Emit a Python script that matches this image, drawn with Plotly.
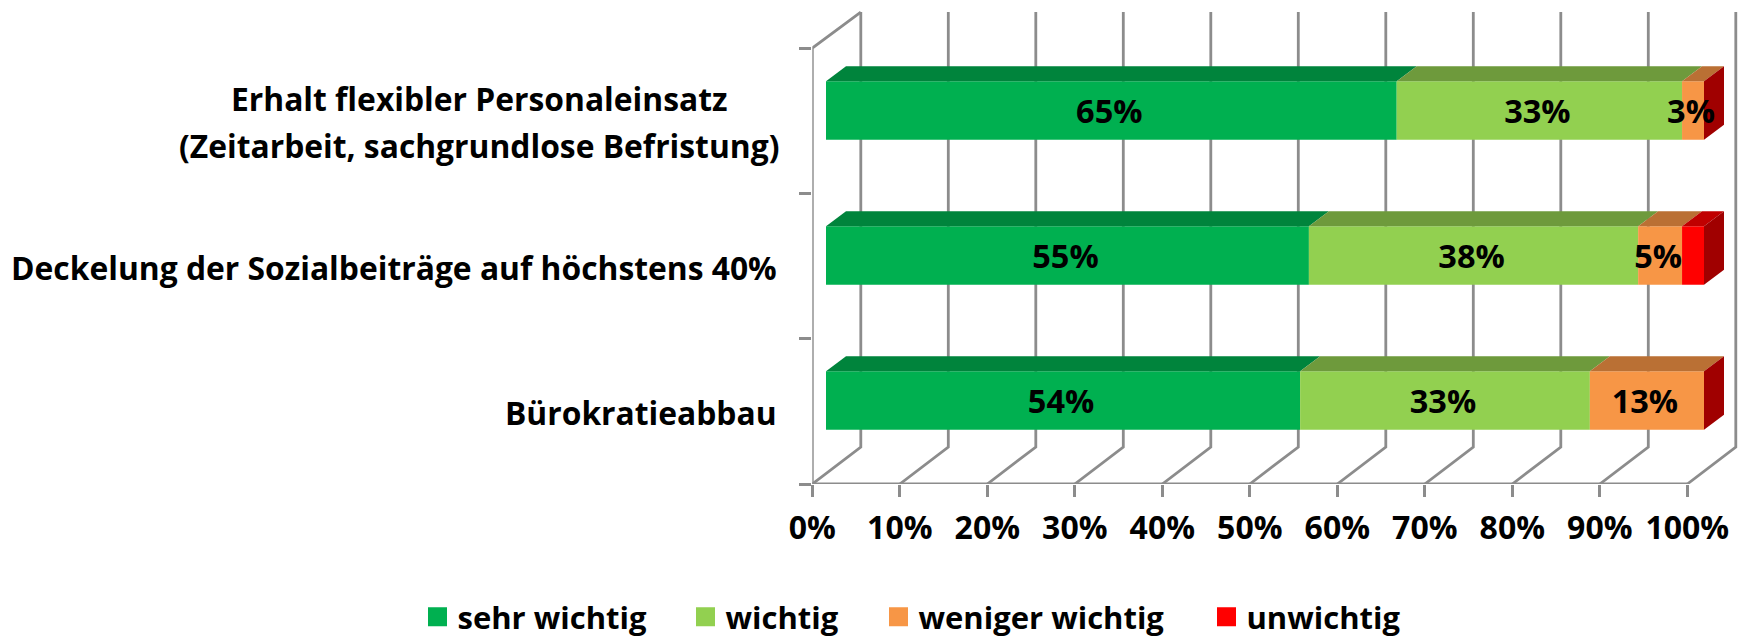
import plotly.graph_objects as go

W, H = 1744, 637

# ---- data (bottom category first) ----
categories = [
    "Bürokratieabbau",
    "Deckelung der Sozialbeiträge auf höchstens 40%",
    "Erhalt flexibler Personaleinsatz\n(Zeitarbeit, sachgrundlose Befristung)",
]
series_names = ["sehr wichtig", "wichtig", "weniger wichtig", "unwichtig"]
sehr_wichtig = [54, 55, 65]
wichtig = [33, 37.5, 32.5]
weniger_wichtig = [13, 5, 2.5]
unwichtig = [0, 2.5, 0]
sehr_wichtig_labels = ["54%", "55%", "65%"]
wichtig_labels = ["33%", "38%", "33%"]
weniger_wichtig_labels = ["13%", "5%", "3%"]
unwichtig_labels = ["", "", ""]
x_tick_values = [0, 10, 20, 30, 40, 50, 60, 70, 80, 90, 100]
x_tick_labels = ["0%", "10%", "20%", "30%", "40%", "50%", "60%", "70%", "80%", "90%", "100%"]

# ---- style ----
front_colors = ["#00B050", "#92D050", "#F79646", "#FF0000"]
top_colors = ["#00843C", "#6E9A3C", "#BA7034", "#C00000"]
side_color = "#A00000"
grid_color = "#8C8C8C"
font_family = "Open Sans"
category_font_size = 31.8
value_font_size = 32.5
tick_font_size = 32
legend_font_size = 31
legend_left_px = [428, 696, 889, 1217]
legend_pad_px = 10.5
legend_center_px = 617

# pixel geometry of the fake 3D box
wall_left, wall_right, wall_bottom = 812.3, 1687.3, 484
cat_px = 145.33
px_per_unit = (wall_right - wall_left) / 100
wall_dx = 48.5 / px_per_unit
wall_dy = 37 / cat_px
wall_rise = 36 / cat_px

bar_left, bar_right = 826, 1704
bar_bottom_px, bar_top_px = 473, 38
bar_px_per_unit = (bar_right - bar_left) / 100
bar_cat_px = (bar_bottom_px - bar_top_px) / 3
bar_width = 58.5 / bar_cat_px
depth_dx = 20 / bar_px_per_unit
depth_dy = 15 / bar_cat_px
label_dx = -2 / bar_px_per_unit
label_dy = -4.5 / bar_cat_px

fig = go.Figure()
line_style = dict(color=grid_color, width=2.8)

# walls and floor, derived from the axis ticks
grid_x, grid_y = [], []
for t in x_tick_values:
    grid_x += [t, t + wall_dx, t + wall_dx, None]
    grid_y += [0, wall_dy, 3 + wall_rise, None]
grid_x += [0, 100, None, 0, 0, wall_dx]
grid_y += [0, 0, None, 0, 3, 3 + wall_rise]
fig.add_trace(go.Scatter(x=grid_x, y=grid_y, mode="lines", line=line_style,
                         showlegend=False, hoverinfo="skip", xaxis="x", yaxis="y"))

# front faces
all_values = [sehr_wichtig, wichtig, weniger_wichtig, unwichtig]
all_labels = [sehr_wichtig_labels, wichtig_labels, weniger_wichtig_labels, unwichtig_labels]
positions = list(range(len(categories)))
starts = [0] * len(categories)
tops = []
label_x, label_y, label_t = [], [], []
for name, vals, labs, fc, tc in zip(series_names, all_values, all_labels, front_colors, top_colors):
    fig.add_trace(go.Bar(x=vals, y=positions, base=starts, name=name, orientation="h",
                         width=bar_width, marker=dict(color=fc, line=dict(width=0)),
                         showlegend=False, xaxis="x2", yaxis="y2"))
    px, py = [], []
    for p, s, v, lab in zip(positions, starts, vals, labs):
        if v > 0:
            yt = p + bar_width / 2
            px += [s, s + v, s + v + depth_dx, s + depth_dx, s, None]
            py += [yt, yt, yt + depth_dy, yt + depth_dy, yt, None]
        if lab:
            label_x.append(s + v / 2 + label_dx)
            label_y.append(p + label_dy)
            label_t.append(lab)
    tops.append((px, py, tc))
    starts = [s + v for s, v in zip(starts, vals)]

# top faces
for px, py, tc in tops:
    fig.add_trace(go.Scatter(x=px, y=py, mode="lines", fill="toself", fillcolor=tc,
                             line=dict(width=0), showlegend=False, hoverinfo="skip",
                             xaxis="x2", yaxis="y2"))

# side faces at the end of every stack
sx, sy = [], []
for p, e in zip(positions, starts):
    yt, yb = p + bar_width / 2, p - bar_width / 2
    sx += [e, e + depth_dx, e + depth_dx, e, e, None]
    sy += [yt, yt + depth_dy, yb + depth_dy, yb, yt, None]
fig.add_trace(go.Scatter(x=sx, y=sy, mode="lines", fill="toself", fillcolor=side_color,
                         line=dict(width=0), showlegend=False, hoverinfo="skip",
                         xaxis="x2", yaxis="y2"))

# value labels above the faces
fig.add_trace(go.Scatter(x=label_x, y=label_y, text=label_t, mode="text", textposition="middle center",
                         textfont=dict(family=font_family, size=value_font_size, weight="bold", color="black"),
                         showlegend=False, hoverinfo="skip", cliponaxis=False, xaxis="x2", yaxis="y2"))

# one legend per entry, so that each sits where the reference has it
layout_legends = {}
for i, (name, fc, left) in enumerate(zip(series_names, front_colors, legend_left_px)):
    key = "legend" if i == 0 else f"legend{i + 1}"
    fig.add_trace(go.Scatter(x=[None], y=[None], mode="markers", name=name, legend=key,
                             marker=dict(symbol="square", size=16, color=fc, line=dict(color=fc, width=3)),
                             xaxis="x", yaxis="y"))
    layout_legends[key] = dict(
        x=(left - legend_pad_px) / W, xanchor="left",
        y=(H - legend_center_px) / H, yanchor="middle",
        orientation="h", bgcolor="rgba(0,0,0,0)", borderwidth=0,
        font=dict(family=font_family, size=legend_font_size, weight="bold", color="black"),
    )

# category labels (two-line label: centred lines, as in the reference)
annots = []
label_font = dict(family=font_family, size=category_font_size, weight="bold", color="black")
label_gap = 33
label_down = 1.5
block_half = 300
line_step = 47
for i, cat in enumerate(categories):
    lines = cat.split("\n")
    yc = i + 0.5
    for j, line in enumerate(lines):
        multi = len(lines) > 1
        annots.append(dict(
            x=0, y=yc, xref="x", yref="y", text=line, showarrow=False,
            xanchor="center" if multi else "right", yanchor="middle",
            xshift=-(label_gap + block_half) if multi else -label_gap,
            yshift=-(j - (len(lines) - 1) / 2) * line_step - label_down,
            font=label_font,
        ))

fig.update_layout(
    width=W, height=H, autosize=False,
    margin=dict(l=0, r=0, t=0, b=0, autoexpand=False),
    paper_bgcolor="white", plot_bgcolor="rgba(0,0,0,0)",
    barmode="overlay",
    annotations=annots,
    xaxis=dict(domain=[wall_left / W, 1], range=[0, (W - wall_left) / px_per_unit],
               anchor="y", tickmode="array", tickvals=x_tick_values, ticktext=x_tick_labels,
               ticks="outside", ticklen=12, tickwidth=2.8, tickcolor=grid_color, ticklabelstandoff=4,
               showgrid=False, zeroline=False, showline=False,
               tickfont=dict(family=font_family, size=tick_font_size, weight="bold", color="black")),
    yaxis=dict(domain=[(H - wall_bottom) / H, 1], range=[0, wall_bottom / cat_px],
               anchor="x", tickmode="array", tickvals=[0, 1, 2, 3], ticktext=["", "", "", ""],
               ticks="outside", ticklen=12, tickwidth=2.8, tickcolor=grid_color,
               showgrid=False, zeroline=False, showline=False),
    xaxis2=dict(domain=[bar_left / W, 1], range=[0, (W - bar_left) / bar_px_per_unit],
                anchor="y2", visible=False),
    yaxis2=dict(domain=[(H - bar_bottom_px) / H, 1], range=[-0.5, -0.5 + bar_bottom_px / bar_cat_px],
                anchor="x2", visible=False),
    **layout_legends,
)

fig.write_html("out.html", config=dict(displayModeBar=False),
               post_script="document.body.style.margin='0';")
